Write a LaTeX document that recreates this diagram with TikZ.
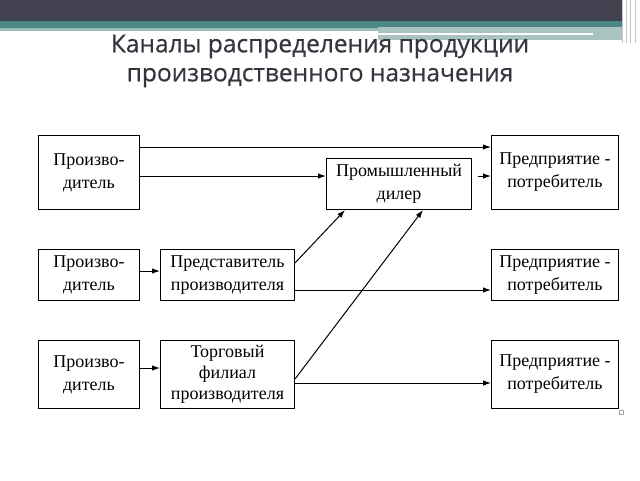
\documentclass[tikz,border=0pt]{standalone}
\usepackage{fontspec}
\setmainfont{Liberation Serif}
\newfontfamily\titlefont[FakeBold=0.5]{Open Sans}
\usetikzlibrary{positioning}
\usetikzlibrary{calc}
\usetikzlibrary{arrows.meta}
\definecolor{barDark}{HTML}{41414F}
\definecolor{barTeal}{HTML}{4A8785}
\definecolor{barLight}{HTML}{A9C3C2}
\definecolor{titleGray}{HTML}{35353F}

\begin{document}
\begin{tikzpicture}[x=1pt,y=-1pt,
                    box/.style={draw, line width=1pt, align=center, inner sep=0pt, anchor=north west,
                                font=\fontsize{18}{23}\selectfont},
                    arr/.style={-{Latex[length=8pt,width=5.5pt]}, line width=1pt}]
        \useasboundingbox (0,0) rectangle (640,480);
        % top bar
        \fill[barDark] (0,0) rectangle (622,21);
        \fill[barTeal] (0,21) rectangle (623,28);
        \fill[barTeal!55] (0,28) rectangle (378,31);
        \fill[barLight] (378,27) rectangle (623,40);
        \fill[white] (378,33) rectangle (593,35);
        \foreach \x in {622,626,630,635}
            \draw[gray!45, line width=0.8pt] (\x,0) -- (\x,43);
        \node[font=\titlefont\fontsize{24.5}{29}\selectfont, text=titleGray, align=center] (title)
            at (320,61) {Каналы распределения продукции\\производственного назначения};

        % boxes
        \node[box, minimum width=101pt, minimum height=74pt] (proizv1) at (38,135) {Произво-\\дитель};
        \node[box, minimum width=101pt, minimum height=51pt] (proizv2) at (38,249) {Произво-\\дитель};
        \node[box, minimum width=101pt, minimum height=68pt] (proizv3) at (38,340) {Произво-\\дитель};
        \node[box, minimum width=134pt, minimum height=51pt] (predst) at (160,249) {Представитель\\производителя};
        \node[box, minimum width=134pt, minimum height=68pt, font=\fontsize{18}{21}\selectfont] (filial)
            at (160,340) {Торговый\\филиал\\производителя};
        \node[box, minimum width=145pt, minimum height=51pt] (diler) at (326,158) {Промышленный\\дилер};
        \node[box, minimum width=127pt, minimum height=74pt] (potr1) at (491,135) {Предприятие -\\потребитель};
        \node[box, minimum width=127pt, minimum height=51pt] (potr2) at (491,249) {Предприятие -\\потребитель};
        \node[box, minimum width=127pt, minimum height=68pt] (potr3) at (491,340) {Предприятие -\\потребитель};

        % arrows
        \draw[arr] (proizv1.east |- 0,147) -- (potr1.west |- 0,147);
        \draw[arr] (proizv1.east |- 0,176) -- (diler.west |- 0,176);
        \draw[arr] ($(diler.east |- 0,176)+(6,0)$) -- (potr1.west |- 0,176);
        \draw[arr] (proizv2.east |- 0,271) -- (predst.west |- 0,271);
        \draw[arr] (proizv3.east |- 0,368) -- (filial.west |- 0,368);
        \draw[arr] (predst.east |- 0,263) -- (diler.south -| 345,0);
        \draw[arr] (predst.east |- 0,290) -- (potr2.west |- 0,290);
        \draw[arr] (filial.east |- 0,379) -- (diler.south -| 423,0);
        \draw[arr] (filial.east |- 0,383) -- (potr3.west |- 0,383);

        \draw[gray!70, line width=0.5pt] (619,410) rectangle (623,414);
    \end{tikzpicture}
\end{document}
